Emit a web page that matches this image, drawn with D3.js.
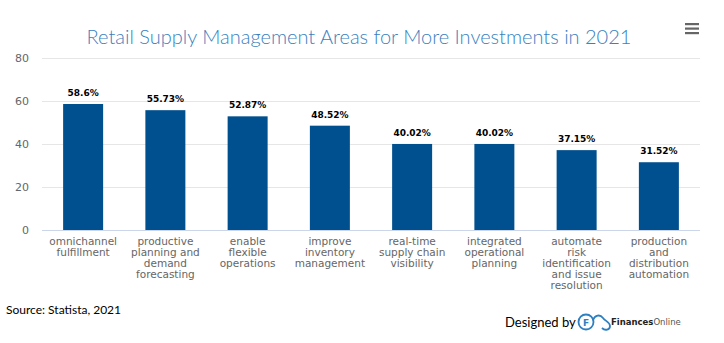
<!DOCTYPE html>
<meta charset="utf-8">
<script src="https://d3js.org/d3.v7.min.js"></script>
<style>
  body { margin: 0; background: #fff; }
</style>
<div id="main"></div>
<script>

var width = 724
var height = 343

// data
var categories = [
  "omnichannel fulfillment",
  "productive planning and demand forecasting",
  "enable flexible operations",
  "improve inventory management",
  "real-time supply chain visibility",
  "integrated operational planning",
  "automate risk identification and issue resolution",
  "production and distribution automation"
]
var values = [58.6, 55.73, 52.87, 48.52, 40.02, 40.02, 37.15, 31.52]
var yTicks = [0, 20, 40, 60, 80]

var margin = {top: 58, right: 24, bottom: 113, left: 42}

var svg = d3.select("#main")
  .append("svg")
    .attr("width", width)
    .attr("height", height)

var x = d3.scaleBand()
  .domain(categories)
  .range([margin.left, width - margin.right])
  .paddingInner(0)

var y = d3.scaleLinear()
  .domain([0, 80])
  .range([height - margin.bottom, margin.top])

// title
svg.append("text")
  .attr("x", 359)
  .attr("y", 44)
  .attr("text-anchor", "middle")
  .style("font-family", "Lato")
  .style("font-weight", 300)
  .style("font-size", "20px")
  .style("fill", "#3a7fc0")
  .text("Retail Supply Management Areas for More Investments in 2021")

// hamburger menu
var menu = svg.append("g").attr("transform", "translate(685,23)")
;[0, 4.5, 9].forEach(function(d) {
  menu.append("rect")
    .attr("x", 0).attr("y", d)
    .attr("width", 14).attr("height", 2.2)
    .style("fill", "#666")
})

// gridlines
svg.append("g")
  .selectAll("line")
  .data(yTicks.filter(d => d > 0))
  .enter()
  .append("line")
    .attr("x1", margin.left)
    .attr("x2", width - margin.right)
    .attr("y1", d => y(d) + 0.5)
    .attr("y2", d => y(d) + 0.5)
    .style("stroke", "#e6e6e6")

// y axis labels
var yAxis = d3.axisLeft(y).tickValues(yTicks).tickSize(0).tickPadding(13)
var yg = svg.append("g")
  .attr("transform", "translate(" + margin.left + ",0)")
  .call(yAxis)
yg.select(".domain").remove()
yg.selectAll("text")
  .style("font-family", "DejaVu Sans")
  .style("font-size", "11px")
  .style("fill", "#666")

// bars
svg.append("g")
  .selectAll("rect")
  .data(values)
  .enter()
  .append("rect")
    .attr("x", (d, i) => x(categories[i]) + x.bandwidth() / 2 - 20)
    .attr("width", 40)
    .attr("y", d => y(d))
    .attr("height", d => y(0) - y(d))
    .style("fill", "#00508f")

// value labels
svg.append("g")
  .selectAll("text")
  .data(values)
  .enter()
  .append("text")
    .attr("x", (d, i) => x(categories[i]) + x.bandwidth() / 2)
    .attr("y", d => y(d) - 8)
    .attr("text-anchor", "middle")
    .style("font-family", "DejaVu Sans")
    .style("font-weight", "bold")
    .style("font-size", "9px")
    .style("fill", "#000")
    .text(d => d + "%")

// x axis line
svg.append("line")
  .attr("x1", margin.left)
  .attr("x2", width - margin.right)
  .attr("y1", y(0) + 0.5)
  .attr("y2", y(0) + 0.5)
  .style("stroke", "#ccd6eb")

// x axis labels, wrapped
var xlab = svg.append("g")
  .selectAll("text")
  .data(categories)
  .enter()
  .append("text")
    .attr("text-anchor", "middle")
    .style("font-family", "DejaVu Sans")
    .style("font-size", "10.5px")
    .style("fill", "#666")

xlab.each(function(d) {
  var el = d3.select(this)
  var cx = x(d) + x.bandwidth() / 2
  var words = d.split(" ")
  var lines = []
  var cur = ""
  var probe = el.append("tspan")
  words.forEach(function(w) {
    var test = cur ? cur + " " + w : w
    probe.text(test)
    if (cur && probe.node().getComputedTextLength() > 70) {
      lines.push(cur)
      cur = w
    } else {
      cur = test
    }
  })
  lines.push(cur)
  probe.remove()
  lines.forEach(function(l, i) {
    el.append("tspan")
      .attr("x", cx)
      .attr("y", 245 + i * 11)
      .text(l)
  })
})

// footer
svg.append("text")
  .attr("x", 6)
  .attr("y", 314)
  .style("font-family", "Lato")
  .style("font-size", "12px")
  .style("fill", "#000")
  .text("Source: Statista, 2021")

svg.append("text")
  .attr("x", 505)
  .attr("y", 327)
  .style("font-family", "Lato")
  .style("font-size", "13px")
  .style("fill", "#000")
  .text("Designed by")

// logo
var logo = svg.append("g").attr("transform", "translate(578,313)")
logo.append("circle")
  .attr("cx", 8).attr("cy", 9).attr("r", 7.5)
  .style("fill", "none").style("stroke", "#2d7fc1").style("stroke-width", 1.8)
logo.append("text")
  .attr("x", 8).attr("y", 12.5)
  .attr("text-anchor", "middle")
  .style("font-family", "DejaVu Sans")
  .style("font-weight", "bold")
  .style("font-size", "9px")
  .style("fill", "#2d7fc1")
  .text("F")
logo.append("path")
  .attr("d", "M15,7 C17,2 22,1 25,5 C27,8 32,9 32,13 C32,17 27,18 24,15")
  .style("fill", "none").style("stroke", "#2d7fc1").style("stroke-width", 1.8)

var brand = svg.append("text")
  .attr("x", 611)
  .attr("y", 325)
  .style("font-family", "DejaVu Sans")
  .style("font-size", "8.5px")
  .style("fill", "#222")
brand.append("tspan").style("font-weight", "bold").text("Finances")
brand.append("tspan").style("fill", "#555").text("Online")

</script>
